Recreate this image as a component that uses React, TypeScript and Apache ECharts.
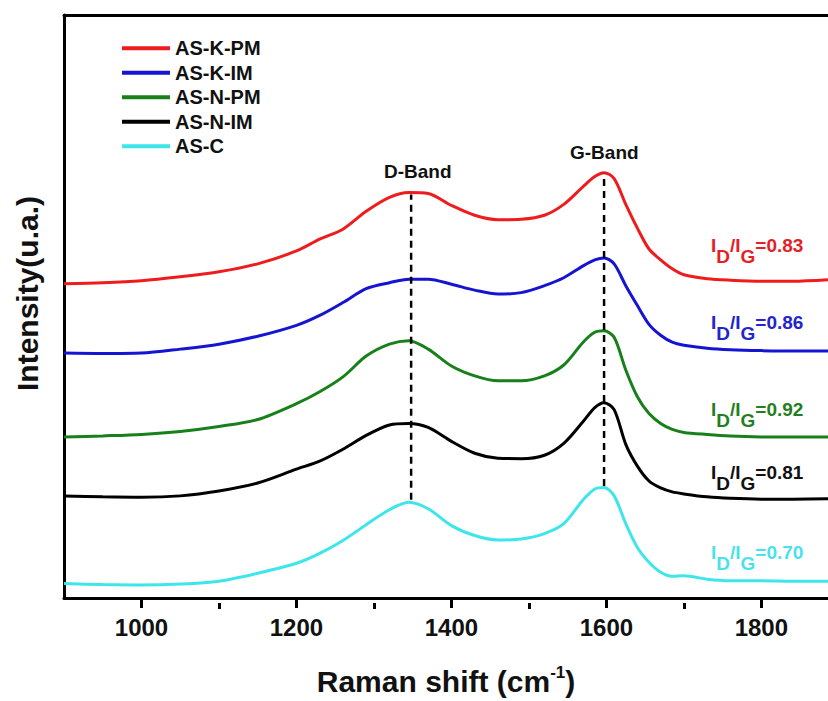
import React, { useEffect, useRef } from 'react';
import * as echarts from 'echarts';

// Raman shift (cm-1) sampling points
const ramanShift = [900, 950, 1000, 1050, 1100, 1150, 1200, 1230, 1260, 1290, 1320, 1345, 1370, 1400, 1430, 1460, 1490, 1520, 1545, 1570, 1585, 1597, 1610, 1625, 1640, 1655, 1670, 1685, 1700, 1730, 1760, 1800, 1840, 1886];

// Stacked intensities (a.u.) of each sample
const asKPM = [317, 318, 320, 324, 329, 337, 350, 362, 372, 390, 404, 409, 408, 396, 386, 381.5, 382, 386, 397, 415, 425, 429, 423, 397, 373, 352, 341, 332, 326, 322, 320.5, 319.5, 319.5, 321];
const asKIM = [247, 246.5, 247, 251, 256, 264, 275, 285, 298, 312, 318, 321.5, 321.5, 316.5, 310.5, 306.5, 308, 315, 323, 335, 341, 343, 337, 315, 295, 276, 265, 258, 255, 252, 250.5, 249.5, 249, 249];
const asNPM = [162.3, 163.5, 165, 168, 173, 180, 196, 208, 223, 244, 256, 259.5, 251, 234, 224, 219, 219, 224, 235, 258, 268, 269.5, 263, 230, 203, 186, 176, 170, 167, 165, 163.5, 162.5, 162.3, 162.3];
const asNIM = [103, 102, 101.5, 103, 108, 116, 130, 138, 150, 164, 174.5, 176, 172, 158, 146, 141, 140.5, 144, 156, 178, 192, 197, 190, 155, 133, 118, 111, 107, 105, 102, 100.5, 99.7, 99.7, 100];
const asC = [14.5, 13.5, 13, 14, 17, 25, 35, 45, 58, 74, 89, 96.5, 90, 73, 63, 58.5, 59.5, 65, 75, 99, 110, 111.5, 103, 75, 51, 36, 26, 22, 22.5, 19, 17.5, 17.5, 17, 17];

const seriesNames = ['AS-K-PM', 'AS-K-IM', 'AS-N-PM', 'AS-N-IM', 'AS-C'];
const seriesValues = [asKPM, asKIM, asNPM, asNIM, asC];
const seriesColors = ['#ee1c1c', '#1414d2', '#17801a', '#000000', '#3de6ea'];
const labelColors = ['#e61e26', '#2424cc', '#1f7f22', '#111111', '#4ae2ea'];
const ratioValues = ['0.83', '0.86', '0.92', '0.81', '0.70'];

// Band positions (cm-1) and vertical extent of the dashed guides (a.u.)
const dBandLine = [[1348, 99], [1348, 407]];
const gBandLine = [[1597, 113], [1597, 428]];

const majorTicks = [1000, 1200, 1400, 1600, 1800];
const minorTicks = [1100, 1300, 1500, 1700];

const FONT = '"Liberation Sans", Arial, Helvetica, sans-serif';

export default function App() {
  const ref = useRef<HTMLDivElement>(null);

  useEffect(() => {
    if (!ref.current) return;
    const chart = echarts.init(ref.current, null, { renderer: 'svg' });

    const lineSeries = seriesNames.map((name, i) => ({
      name,
      type: 'line',
      data: ramanShift.map((x, k) => [x, seriesValues[i][k]]),
      showSymbol: false,
      symbol: 'none',
      smooth: 0.3,
      lineStyle: { color: seriesColors[i], width: 3 },
      itemStyle: { color: seriesColors[i] },
      z: 3,
    }));

    const dashStyle = { color: '#000', width: 2.5, type: [7, 5] };
    const guides = [dBandLine, gBandLine].map((d, i) => ({
      name: i === 0 ? 'D' : 'G',
      type: 'line',
      data: d,
      showSymbol: false,
      symbol: 'none',
      lineStyle: dashStyle,
      silent: true,
      z: 4,
    }));

    const ratioCenters = [251, 328, 415, 478, 558];
    const ratioTexts = ratioValues.map((v, i) => {
      const c = labelColors[i];
      const n = { fontSize: 19, fontWeight: 'bold', fontFamily: FONT, fill: c, color: c, lineHeight: 30, verticalAlign: 'top' };
      const s = { fontSize: 19, fontWeight: 'bold', fontFamily: FONT, fill: c, color: c, lineHeight: 14, verticalAlign: 'bottom' };
      return {
        type: 'text',
        left: 711,
        top: ratioCenters[i] - 15,
        style: {
          text: `{n|I}{s|D}{n|/I}{s|G}{n|=${v}}`,
          rich: { n, s },
          fill: c,
          font: `bold 19px ${FONT}`,
        },
        z: 10,
      };
    });

    chart.setOption({
      animation: false,
      backgroundColor: '#ffffff',
      textStyle: { fontFamily: FONT },
      grid: [
        { left: 64, right: 0, top: 15, bottom: 98, containLabel: false },
        { left: 64, right: 0, top: 15, bottom: 98, containLabel: false },
      ],
      legend: {
        data: seriesNames,
        orient: 'vertical',
        left: 117,
        top: 33,
        itemWidth: 48,
        itemHeight: 4,
        itemGap: 4,
        icon: 'rect',
        textStyle: { fontSize: 20, fontWeight: 'bold', color: '#111', lineHeight: 20.5, fontFamily: FONT },
      },
      xAxis: [
        {
          type: 'value',
          gridIndex: 0,
          position: 'bottom',
          min: 900,
          max: 1886,
          name: '{a|Raman shift (cm}{s|-1}{a|)}',
          nameLocation: 'middle',
          nameGap: 66,
          nameTextStyle: {
            rich: {
              a: { fontSize: 30, fontWeight: 'bold', color: '#111', lineHeight: 34, fontFamily: FONT },
              s: { fontSize: 17, fontWeight: 'bold', color: '#111', lineHeight: 14, verticalAlign: 'top', fontFamily: FONT },
            },
          },
          axisLine: { show: true, onZero: false, lineStyle: { color: '#000', width: 3 } },
          axisTick: { show: true, inside: false, length: 10, customValues: majorTicks, lineStyle: { color: '#000', width: 3 } },
          axisLabel: {
            show: true,
            customValues: majorTicks,
            formatter: (v: number) => String(v),
            margin: 17,
            fontSize: 24,
            fontWeight: 'bold',
            color: '#111',
            fontFamily: FONT,
          },
          splitLine: { show: false },
        },
        {
          type: 'value',
          gridIndex: 0,
          position: 'top',
          min: 900,
          max: 1886,
          axisLine: { show: true, onZero: false, lineStyle: { color: '#000', width: 3 } },
          axisTick: { show: false },
          axisLabel: { show: false },
          splitLine: { show: false },
        },
        {
          type: 'value',
          gridIndex: 1,
          position: 'bottom',
          min: 900,
          max: 1886,
          axisLine: { show: false, onZero: false },
          axisTick: { show: true, inside: false, length: 6, customValues: minorTicks, lineStyle: { color: '#000', width: 3 } },
          axisLabel: { show: false },
          splitLine: { show: false },
        },
      ],
      yAxis: [
        {
          type: 'value',
          gridIndex: 0,
          min: 0,
          max: 588,
          name: 'Intensity(u.a.)',
          nameLocation: 'middle',
          nameGap: 22,
          nameTextStyle: { fontSize: 30, fontWeight: 'bold', color: '#111', fontFamily: FONT, padding: [0, 0, 0, 26] },
          axisLine: { show: true, onZero: false, lineStyle: { color: '#000', width: 3 } },
          axisTick: { show: false },
          axisLabel: { show: false },
          splitLine: { show: false },
        },
        {
          type: 'value',
          gridIndex: 1,
          min: 0,
          max: 1,
          show: false,
        },
      ],
      series: [...lineSeries, ...guides],
      graphic: [
        {
          type: 'text',
          left: 420 - 36,
          top: 162,
          style: { text: 'D-Band', fill: '#111', font: `bold 19px ${FONT}` },
          z: 10,
        },
        {
          type: 'text',
          left: 607 - 37,
          top: 143,
          style: { text: 'G-Band', fill: '#111', font: `bold 19px ${FONT}` },
          z: 10,
        },
        ...ratioTexts,
      ],
    });

    return () => chart.dispose();
  }, []);

  return (
    <div
      ref={ref}
      style={{ position: 'absolute', left: 0, top: 0, width: 828, height: 701, background: '#fff' }}
    />
  );
}
